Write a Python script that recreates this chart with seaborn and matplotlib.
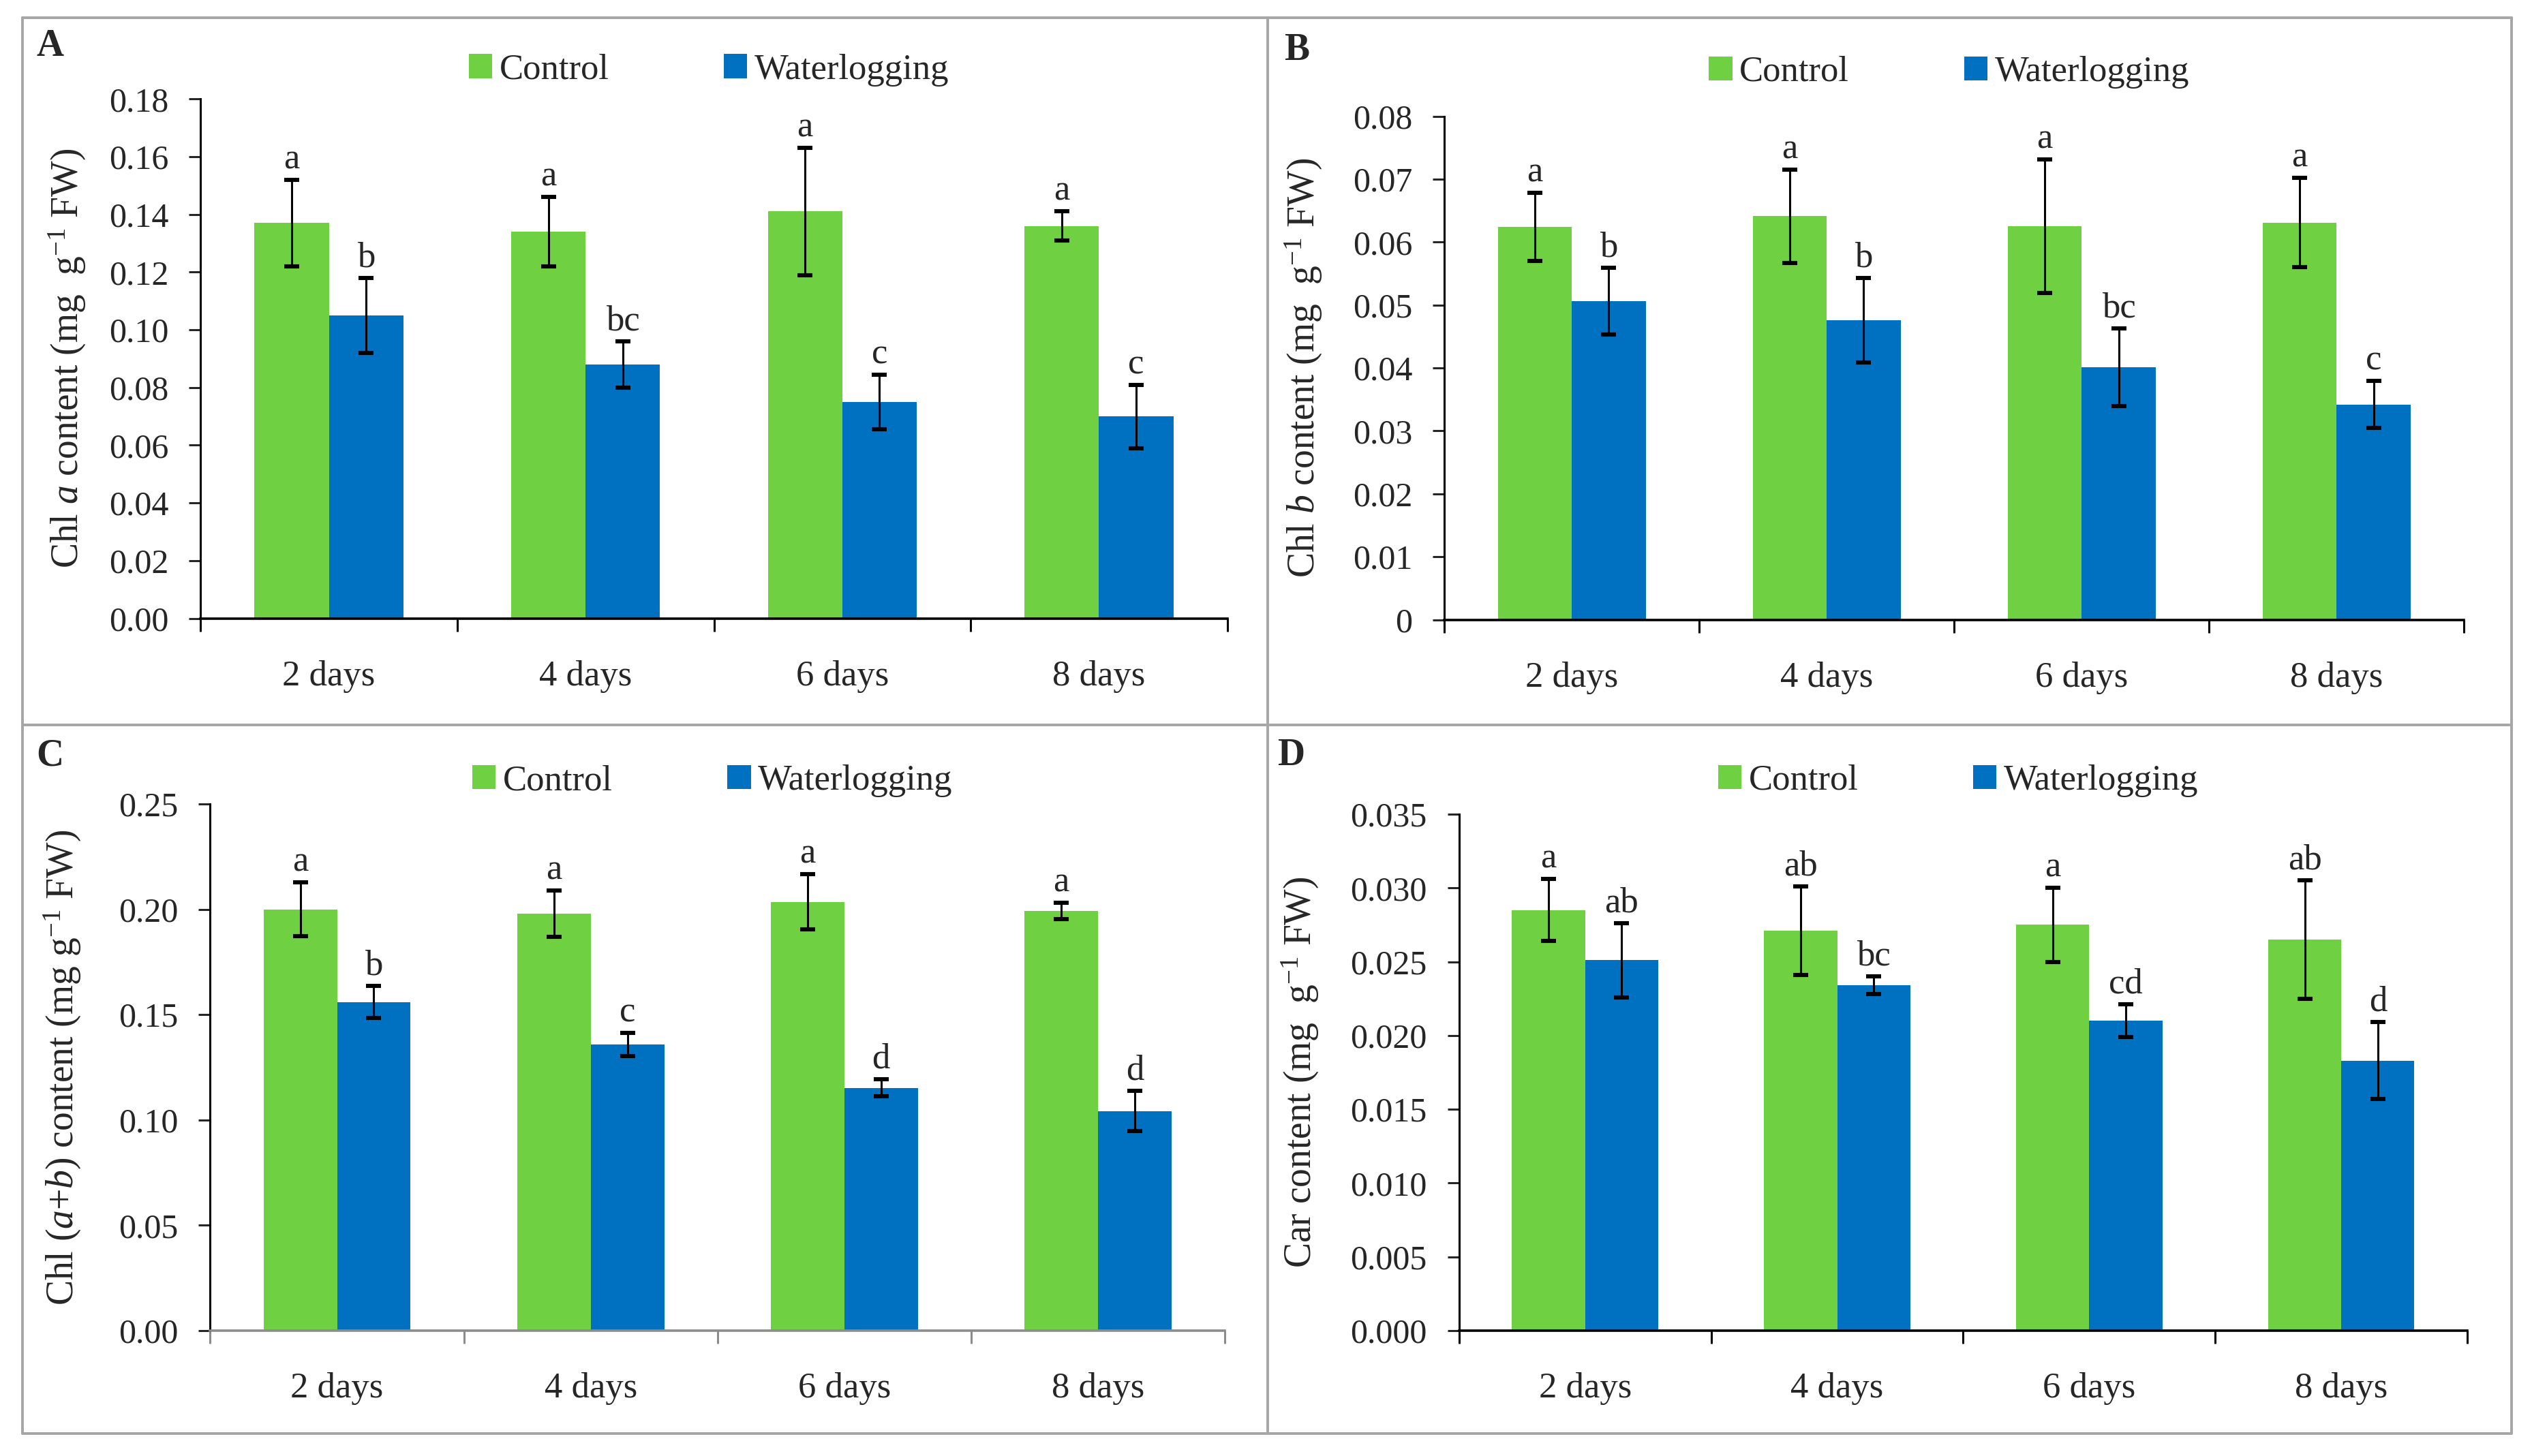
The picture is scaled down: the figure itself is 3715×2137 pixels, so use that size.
import numpy as np
import pandas as pd
import matplotlib
matplotlib.use("Agg")
import matplotlib.pyplot as plt
import seaborn as sns
from matplotlib.lines import Line2D
from matplotlib.ticker import FixedLocator, FuncFormatter

# =====================================================
# 1. DATA
# =====================================================
days = ["2 days", "4 days", "6 days", "8 days"]
treatments = ["Control", "Waterlogging"]

# A - Chl a
chla_control = [0.137, 0.134, 0.141, 0.136]
chla_control_err = [0.015, 0.012, 0.022, 0.005]
chla_water = [0.105, 0.088, 0.075, 0.070]
chla_water_err = [0.013, 0.008, 0.0095, 0.011]
chla_letters_control = ["a", "a", "a", "a"]
chla_letters_water = ["b", "bc", "c", "c"]

# B - Chl b
chlb_control = [0.0624, 0.0641, 0.0625, 0.0631]
chlb_control_err = [0.0054, 0.0074, 0.0106, 0.0071]
chlb_water = [0.0506, 0.0476, 0.0401, 0.0342]
chlb_water_err = [0.0053, 0.0067, 0.0062, 0.0037]
chlb_letters_control = ["a", "a", "a", "a"]
chlb_letters_water = ["b", "b", "bc", "c"]

# C - Chl (a+b)
chlab_control = [0.200, 0.198, 0.2036, 0.1993]
chlab_control_err = [0.0128, 0.011, 0.013, 0.0038]
chlab_water = [0.156, 0.1358, 0.1153, 0.1042]
chlab_water_err = [0.0077, 0.0055, 0.004, 0.0095]
chlab_letters_control = ["a", "a", "a", "a"]
chlab_letters_water = ["b", "c", "d", "d"]

# D - Carotenoids
car_control = [0.0285, 0.0271, 0.0275, 0.0265]
car_control_err = [0.0021, 0.003, 0.0025, 0.004]
car_water = [0.0251, 0.0234, 0.0210, 0.0183]
car_water_err = [0.0025, 0.0006, 0.0011, 0.0026]
car_letters_control = ["a", "ab", "a", "ab"]
car_letters_water = ["ab", "bc", "cd", "d"]

COLORS = {"Control": "#6FD041", "Waterlogging": "#0070C0"}

# =====================================================
# 2. STYLE
# =====================================================
sns.set_style("white")
plt.rcParams["font.family"] = ["Liberation Serif", "DejaVu Serif"]
plt.rcParams["mathtext.fontset"] = "custom"
plt.rcParams["mathtext.rm"] = "Liberation Serif"
plt.rcParams["mathtext.it"] = "Liberation Serif:italic"
plt.rcParams["mathtext.bf"] = "Liberation Serif:bold"

fig = plt.figure(figsize=(18.58, 10.685), dpi=200)


def draw_panel(rect, control, control_err, water, water_err, let_c, let_w,
               ymax, ystep, fmt, ylabel, label_x, leg_y, xcolor="black"):
    ax = fig.add_axes(rect)
    df = pd.DataFrame({
        "day": days * 2,
        "treatment": [treatments[0]] * 4 + [treatments[1]] * 4,
        "value": control + water,
    })
    sns.barplot(data=df, x="day", y="value", hue="treatment", order=days,
                hue_order=treatments, palette=COLORS, width=0.58,
                errorbar=None, saturation=1, linewidth=0, ax=ax)

    errs = [control_err, water_err]
    lets = [let_c, let_w]
    for cont, err, let in zip(ax.containers, errs, lets):
        xs = [p.get_x() + p.get_width() / 2 for p in cont.patches]
        ys = [p.get_height() for p in cont.patches]
        ax.errorbar(xs, ys, yerr=err, fmt="none", ecolor="black",
                    elinewidth=1.1, capsize=4, capthick=2.2, zorder=5)
        for x, y, e, l in zip(xs, ys, err, let):
            ax.annotate(l, (x, y + e), xytext=(0, 2), textcoords="offset points",
                        ha="center", va="bottom", fontsize=19)

    ax.set_ylim(0, ymax)
    ax.yaxis.set_major_locator(FixedLocator(np.arange(0, ymax + ystep / 2, ystep)))
    ax.yaxis.set_major_formatter(FuncFormatter(fmt))
    ax.set_xlim(-0.5, 3.5)
    ax.xaxis.set_minor_locator(FixedLocator([-0.5, 0.5, 1.5, 2.5, 3.5]))
    ax.tick_params(axis="x", which="major", length=0, pad=22, labelsize=19)
    ax.tick_params(axis="x", which="minor", length=7, width=1.1,
                   direction="out", color=xcolor, bottom=True)
    ax.tick_params(axis="y", which="major", length=6, width=1.1,
                   direction="out", left=True, pad=11, labelsize=18)

    for s in ["top", "right"]:
        ax.spines[s].set_visible(False)
    ax.spines["left"].set_color("black")
    ax.spines["left"].set_linewidth(1.1)
    ax.spines["bottom"].set_color(xcolor)
    ax.spines["bottom"].set_linewidth(1.3)

    ax.set_xlabel("")
    ax.set_ylabel(ylabel, fontsize=20)
    ax.yaxis.set_label_coords(label_x, 0.5)

    handles, labels = ax.get_legend_handles_labels()
    ax.legend(handles, labels, loc="center", bbox_to_anchor=(0.495, leg_y),
              ncol=2, frameon=False, fontsize=19, handlelength=0.65,
              handleheight=0.65, handletextpad=0.2, columnspacing=3.2)
    return ax


fmt2 = lambda v, p: f"{v:.2f}"
fmt_b = lambda v, p: "0" if abs(v) < 1e-9 else f"{v:.2f}"
fmt3 = lambda v, p: f"{v:.3f}"

draw_panel([0.0792, 0.5753, 0.4054, 0.3567], chla_control, chla_control_err,
           chla_water, chla_water_err, chla_letters_control, chla_letters_water,
           0.18, 0.02, fmt2, r"Chl $a$ content (mg  g$^{-1}$ FW)", -0.110, 1.056)

draw_panel([0.5703, 0.5744, 0.4026, 0.3458], chlb_control, chlb_control_err,
           chlb_water, chlb_water_err, chlb_letters_control, chlb_letters_water,
           0.08, 0.01, fmt_b, r"Chl $b$ content (mg  g$^{-1}$ FW)", -0.118, 1.0876)

draw_panel([0.0830, 0.0861, 0.4006, 0.3617], chlab_control, chlab_control_err,
           chlab_water, chlab_water_err, chlab_letters_control, chlab_letters_water,
           0.25, 0.05, fmt2, r"Chl ($a$+$b$) content (mg g$^{-1}$ FW)", -0.125, 1.044,
           xcolor="#8C8C8C")

draw_panel([0.5761, 0.0861, 0.3981, 0.3547], car_control, car_control_err,
           car_water, car_water_err, car_letters_control, car_letters_water,
           0.035, 0.005, fmt3, r"Car content (mg  g$^{-1}$ FW)", -0.137, 1.065)

# =====================================================
# 3. PANEL FRAMES AND LETTERS
# =====================================================
frame_color = "#A6A6A6"
x0, x1, xm = 0.0089, 0.9917, 0.5006
y0, y1, ym = 0.0155, 0.9878, 0.5022
for xs, ys in [([x0, x1], [y1, y1]), ([x0, x1], [y0, y0]), ([x0, x0], [y0, y1]),
               ([x1, x1], [y0, y1]), ([xm, xm], [y0, y1]), ([x0, x1], [ym, ym])]:
    fig.add_artist(Line2D(xs, ys, transform=fig.transFigure, color=frame_color, lw=1.4))

for txt, x, y in [("A", 0.0198, 0.968), ("B", 0.512, 0.9654),
                  ("C", 0.0198, 0.481), ("D", 0.5097, 0.481)]:
    fig.text(x, y, txt, fontsize=20, fontweight="bold", ha="center", va="center")

fig.savefig("out.png", dpi=200)
plt.close(fig)
